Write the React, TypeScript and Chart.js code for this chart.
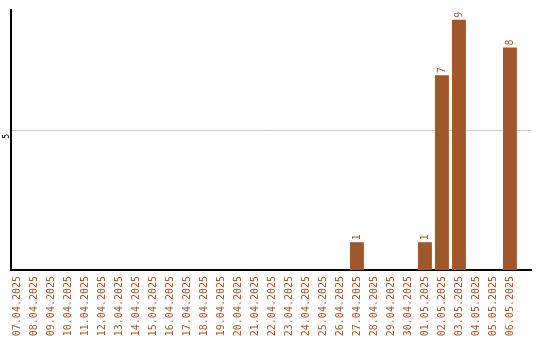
import React, { useEffect, useRef } from "react";
import { Chart, registerables } from "chart.js";

Chart.register(...registerables);

const dates: string[] = [
  "07.04.2025", "08.04.2025", "09.04.2025", "10.04.2025", "11.04.2025",
  "12.04.2025", "13.04.2025", "14.04.2025", "15.04.2025", "16.04.2025",
  "17.04.2025", "18.04.2025", "19.04.2025", "20.04.2025", "21.04.2025",
  "22.04.2025", "23.04.2025", "24.04.2025", "25.04.2025", "26.04.2025",
  "27.04.2025", "28.04.2025", "29.04.2025", "30.04.2025", "01.05.2025",
  "02.05.2025", "03.05.2025", "04.05.2025", "05.05.2025", "06.05.2025",
];

const counts: number[] = [
  0, 0, 0, 0, 0, 0, 0, 0, 0, 0,
  0, 0, 0, 0, 0, 0, 0, 0, 0, 0,
  1, 0, 0, 0, 1, 7, 9, 0, 0, 8,
];

const yTicks: number[] = [5];

const BAR = "#a0572a";
const FONT = "'DejaVu Sans Mono', monospace";

// Writes each non-zero value above its bar, turned to read bottom-to-top.
const valueLabels = {
  id: "valueLabels",
  afterDatasetsDraw(chart: Chart) {
    const { ctx } = chart;
    const meta = chart.getDatasetMeta(0);
    ctx.save();
    ctx.fillStyle = BAR;
    ctx.font = `10px ${FONT}`;
    ctx.textAlign = "left";
    ctx.textBaseline = "middle";
    meta.data.forEach((el: any, i: number) => {
      const v = counts[i];
      if (!v) return;
      ctx.save();
      ctx.translate(el.x, el.y - 2);
      ctx.rotate(-Math.PI / 2);
      ctx.fillText(String(v), 0, 0);
      ctx.restore();
    });
    ctx.restore();
  },
};

export default function App() {
  const ref = useRef<HTMLCanvasElement>(null);

  useEffect(() => {
    document.body.style.margin = "0";
    const points = counts.map((y, x) => ({ x, y }));
    const chart = new Chart(ref.current!, {
      type: "bar",
      data: {
        datasets: [
          {
            data: points,
            backgroundColor: BAR,
            barPercentage: 0.82,
            categoryPercentage: 1,
          },
        ],
      },
      options: {
        animation: false,
        responsive: false,
        layout: { padding: { top: 10, right: 9, bottom: 0, left: 0 } },
        plugins: { legend: { display: false }, tooltip: { enabled: false } },
        scales: {
          x: {
            type: "linear",
            offset: false,
            min: -0.35,
            max: 30.24,
            afterBuildTicks: (axis: any) => {
              axis.ticks = dates.map((_, i) => ({ value: i }));
            },
            afterFit: (axis: any) => {
              axis.height = 70;
            },
            grid: { display: false, drawTicks: false },
            border: { color: "#000", width: 2 },
            ticks: {
              color: BAR,
              font: { family: FONT, size: 10 },
              minRotation: 90,
              maxRotation: 90,
              autoSkip: false,
              padding: 6,
              callback: (v: any) => dates[Math.round(Number(v))] ?? "",
            },
          },
          y: {
            min: 0,
            max: 9.35,
            afterBuildTicks: (axis: any) => {
              axis.ticks = yTicks.map((v) => ({ value: v }));
            },
            afterFit: (axis: any) => {
              axis.width = 11;
            },
            grid: { color: "#cccccc", drawTicks: false },
            border: { color: "#000", width: 2 },
            ticks: {
              color: "#000",
              font: { family: FONT, size: 8 },
              minRotation: 90,
              maxRotation: 90,
              padding: 4.5,
              labelOffset: 3,
            },
          },
        },
      },
      plugins: [valueLabels],
    });
    return () => chart.destroy();
  }, []);

  return <canvas ref={ref} width={540} height={340} style={{ display: "block" }} />;
}
